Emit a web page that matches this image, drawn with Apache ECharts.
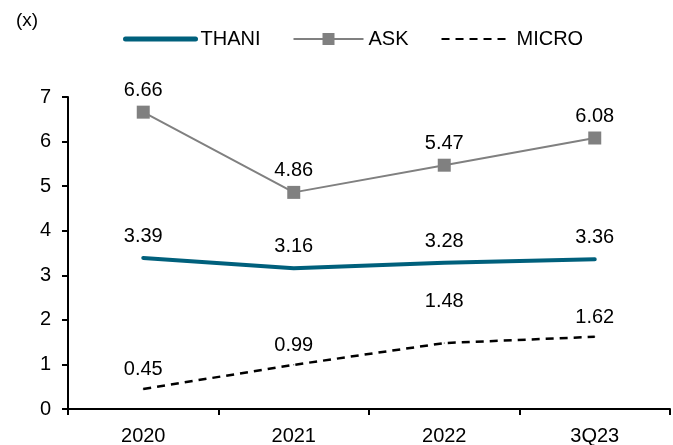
<!DOCTYPE html>
<html>
<head>
<meta charset="utf-8">
<script src="https://cdn.jsdelivr.net/npm/echarts@6/dist/echarts.min.js"></script>
<style>
  html, body { margin: 0; padding: 0; background: #fff; }
  #chart { width: 673px; height: 445px; }
</style>
</head>
<body>
<div id="chart"></div>
<script>
// data
const categories = ['2020', '2021', '2022', '3Q23'];
const thani = [3.39, 3.16, 3.28, 3.36];
const ask = [6.66, 4.86, 5.47, 6.08];
const micro = [0.45, 0.99, 1.48, 1.62];
const yTicks = [0, 1, 2, 3, 4, 5, 6, 7];

const font = 'Liberation Sans, Arial, sans-serif';
const fs = 20;
const chart = echarts.init(document.getElementById('chart'));

const labelBase = { show: true, position: 'top', color: '#000', fontSize: fs, fontFamily: font };

let option = {
  animation: false,
  title: {
    text: '(x)', left: 11, top: 6,
    textStyle: { fontSize: 19, fontWeight: 'normal', fontFamily: font, color: '#000' }
  },
  legend: {
    top: 24, left: 118,
    itemWidth: 70, itemHeight: 15, itemGap: 32,
    textStyle: { fontSize: fs, fontFamily: font, color: '#000' },
    data: [
      { name: 'THANI', itemStyle: { opacity: 0 }, lineStyle: { width: 5 } },
      { name: 'ASK' },
      { name: 'MICRO', itemStyle: { opacity: 0 } }
    ]
  },
  grid: { left: 68, right: 3, top: 97, bottom: 36, containLabel: false, outerBoundsMode: 'none' },
  xAxis: {
    type: 'category',
    data: categories,
    boundaryGap: true,
    axisLine: { lineStyle: { color: '#000', width: 2 } },
    axisTick: { show: true, length: 6, lineStyle: { color: '#000', width: 2 } },
    axisLabel: { color: '#000', fontSize: fs, fontFamily: font, margin: 17 }
  },
  yAxis: {
    type: 'value',
    min: yTicks[0], max: yTicks[yTicks.length - 1], interval: 1,
    splitLine: { show: false },
    axisLine: { show: true, lineStyle: { color: '#000', width: 2 } },
    axisTick: { show: true, length: 6, lineStyle: { color: '#000', width: 2 } },
    axisLabel: { color: '#000', fontSize: fs, fontFamily: font, margin: 17 }
  },
  series: [
    {
      name: 'THANI', type: 'line', data: thani,
      symbol: 'circle', symbolSize: 1,
      itemStyle: { color: '#00607c' },
      lineStyle: { color: '#00607c', width: 4, cap: 'round' },
      label: Object.assign({}, labelBase, { distance: 11 })
    },
    {
      name: 'ASK', type: 'line', data: ask,
      symbol: 'rect', symbolSize: 13,
      itemStyle: { color: '#808080' },
      lineStyle: { color: '#808080', width: 2 },
      label: Object.assign({}, labelBase, { distance: 5 })
    },
    {
      name: 'MICRO', type: 'line',
      data: micro.map((v, i) => i === 2 ? { value: v, label: { distance: 31 } } : v),
      symbol: 'circle', symbolSize: 1,
      itemStyle: { color: '#000' },
      lineStyle: { color: '#000', width: 2.5, type: [8, 6] },
      label: Object.assign({}, labelBase, { distance: 9 })
    }
  ]
};

chart.setOption(option);
</script>
</body>
</html>
